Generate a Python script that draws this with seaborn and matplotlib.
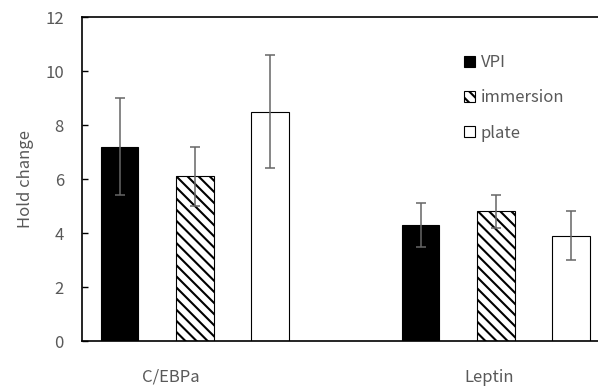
import matplotlib.pyplot as plt
import seaborn as sns
import pandas as pd

# values
genes = ["C/EBPa", "Leptin"]
methods = ["VPI", "immersion", "plate"]
vpi = [7.2, 4.3]
immersion = [6.1, 4.8]
plate = [8.5, 3.9]
vpi_err = [1.8, 0.8]
immersion_err = [1.1, 0.6]
plate_err = [2.1, 0.9]

df = pd.DataFrame({
    "gene": genes * 3,
    "method": [m for m in methods for _ in genes],
    "value": vpi + immersion + plate,
    "err": vpi_err + immersion_err + plate_err,
})

sns.set_style("white")
plt.rcParams["font.family"] = ["Noto Sans CJK JP", "DejaVu Sans"]
plt.rcParams["hatch.linewidth"] = 1.5
text_gray = "#595959"
fs = 12

fig = plt.figure(figsize=(5.98, 3.87), dpi=100)
ax = fig.add_axes([82 / 598, 46 / 387, 516 / 598, 324 / 387])

sns.barplot(data=df, x="gene", y="value", hue="method", hue_order=methods,
            palette=["black", "white", "white"], width=0.75, gap=0.5,
            errorbar=None, edgecolor="black", linewidth=0.8, legend=False, ax=ax)

# hatch for the immersion bars
for bar in ax.containers[1]:
    bar.set_hatch("\\\\\\")

# error bars
for cont, m in zip(ax.containers, methods):
    sub = df[df["method"] == m]
    xs = [b.get_x() + b.get_width() / 2 for b in cont]
    ys = [b.get_height() for b in cont]
    ax.errorbar(xs, ys, yerr=sub["err"].values, fmt="none", ecolor="#666666",
                elinewidth=1.1, capsize=3.5, capthick=1.1, zorder=5)

ax.set_ylim(0, 12)
ax.set_xlim(-0.375, 1.339)
ax.set_yticks(range(0, 13, 2))
# category labels sit a bit left of the bar groups in the original
ax.set_xticks([-0.08, 0.977], genes)
ax.set_xlabel("")
ax.set_ylabel("Hold change", color=text_gray, fontsize=fs, labelpad=8)

ax.tick_params(axis="y", direction="in", length=4, width=1, color="black",
               labelcolor=text_gray, labelsize=fs, pad=13, left=True)
ax.tick_params(axis="x", length=0, labelcolor=text_gray, labelsize=fs, pad=20)

for side in ["left", "top", "bottom"]:
    ax.spines[side].set_color("black")
    ax.spines[side].set_linewidth(1.2)
ax.spines["right"].set_visible(False)

ax.legend(handles=[c[0] for c in ax.containers], labels=methods,
          loc="upper left", bbox_to_anchor=(0.711, 0.932), frameon=False,
          handlelength=0.65, handleheight=0.65, handletextpad=0.35,
          labelspacing=1.1, fontsize=fs, labelcolor=text_gray)

fig.savefig("out.png", dpi=100)
